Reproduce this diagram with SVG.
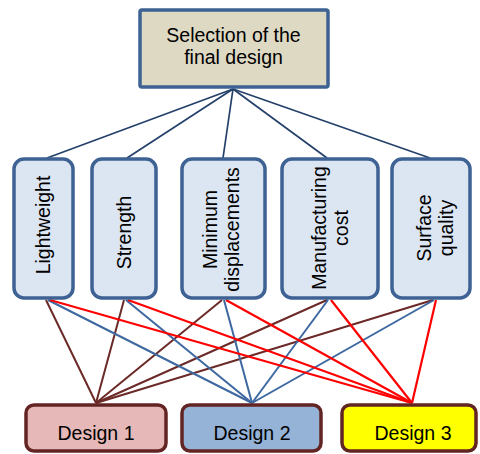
<svg xmlns="http://www.w3.org/2000/svg" width="480" height="454" viewBox="0 0 480 454">
<style>
text{font-family:"Liberation Sans",Arial,sans-serif;font-size:19.5px;fill:#000;text-anchor:middle}
.top{fill:#DDD9C3;stroke:#3D6293;stroke-width:3.5}
.crit{fill:#DCE6F2;stroke:#3D6293;stroke-width:3.5}
.des{stroke:#632523;stroke-width:3.5}
.lt{stroke:#24406A;stroke-width:1.7;fill:none}
.lb{stroke:#6B2A27;stroke-width:2;fill:none}
.lu{stroke:#3D68A0;stroke-width:2;fill:none}
.lr{stroke:#FF0000;stroke-width:2.2;fill:none}
</style>
<g id="connectors">
<line class="lt" x1="233" y1="89" x2="47" y2="158"/>
<line class="lt" x1="233" y1="89" x2="127" y2="158"/>
<line class="lt" x1="233" y1="89" x2="223" y2="158"/>
<line class="lt" x1="233" y1="89" x2="327" y2="158"/>
<line class="lt" x1="233" y1="89" x2="430" y2="158"/>
<line class="lb" x1="46" y1="300" x2="96" y2="403"/>
<line class="lb" x1="124" y1="300" x2="96" y2="403"/>
<line class="lb" x1="222" y1="300" x2="96" y2="403"/>
<line class="lb" x1="327" y1="300" x2="96" y2="403"/>
<line class="lb" x1="433" y1="300" x2="96" y2="403"/>
<line class="lu" x1="48" y1="300" x2="252" y2="403"/>
<line class="lu" x1="126" y1="300" x2="252" y2="403"/>
<line class="lu" x1="224" y1="300" x2="252" y2="403"/>
<line class="lu" x1="328" y1="300" x2="252" y2="403"/>
<line class="lu" x1="434" y1="300" x2="252" y2="403"/>
<line class="lr" x1="50" y1="300" x2="412" y2="403"/>
<line class="lr" x1="128" y1="300" x2="412" y2="403"/>
<line class="lr" x1="226" y1="300" x2="412" y2="403"/>
<line class="lr" x1="331" y1="300" x2="412" y2="403"/>
<line class="lr" x1="436" y1="300" x2="412" y2="403"/>
</g>
<g id="selection">
<rect class="top" x="140" y="10" width="188" height="77" rx="2"/>
<text x="233.5" y="42">Selection of the</text>
<text x="233.5" y="64">final design</text>
</g>
<g id="lightweight">
<rect class="crit" x="14" y="159" width="59" height="139" rx="10"/>
<text transform="translate(50,225) rotate(-90)">Lightweight</text>
</g>
<g id="strength">
<rect class="crit" x="92" y="159" width="64" height="139" rx="10"/>
<text transform="translate(130.5,232.5) rotate(-90)">Strength</text>
</g>
<g id="minimum">
<rect class="crit" x="182" y="159" width="83" height="139" rx="10"/>
<text transform="translate(217,229.5) rotate(-90)">Minimum</text>
<text transform="translate(239,229.5) rotate(-90)">displacements</text>
</g>
<g id="manufacturing">
<rect class="crit" x="282" y="159" width="96" height="139" rx="10"/>
<text transform="translate(326,228) rotate(-90)">Manufacturing</text>
<text transform="translate(348,228) rotate(-90)">cost</text>
</g>
<g id="surface">
<rect class="crit" x="392" y="159" width="78" height="139" rx="10"/>
<text transform="translate(431,228) rotate(-90)">Surface</text>
<text transform="translate(453,228) rotate(-90)">quality</text>
</g>
<g id="design1">
<rect class="des" x="26" y="405" width="140" height="46" rx="8" fill="#E6B9B8"/>
<text x="96" y="440">Design 1</text>
</g>
<g id="design2">
<rect class="des" x="182" y="405" width="139" height="46" rx="8" fill="#95B3D7"/>
<text x="252" y="440">Design 2</text>
</g>
<g id="design3">
<rect class="des" x="342" y="405" width="134" height="46" rx="8" fill="#FFFF00"/>
<text x="413" y="440">Design 3</text>
</g>
</svg>
